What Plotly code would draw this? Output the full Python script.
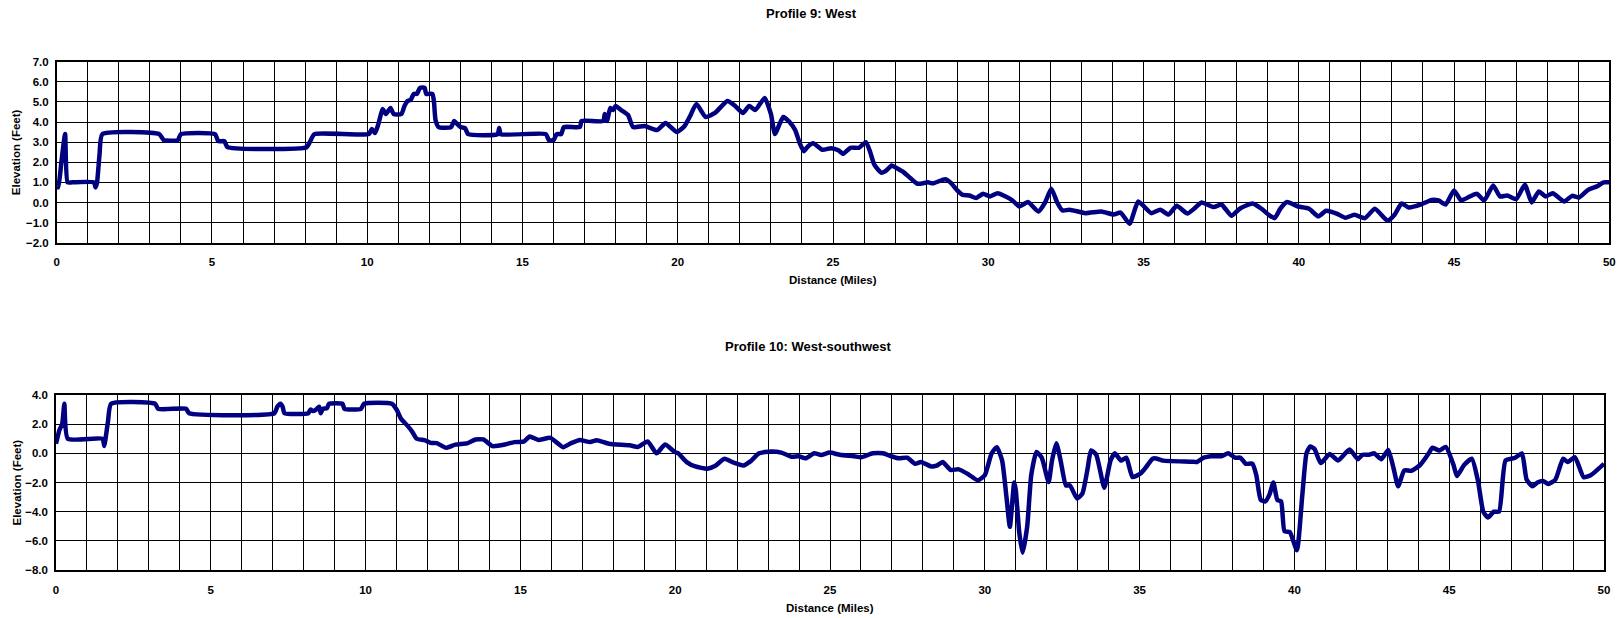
import plotly.graph_objects as go

# Profile 9: West
dist9 = [0.00, 0.05, 0.15, 0.27, 0.35, 0.50, 1.20, 1.25, 1.30, 1.38, 1.47, 3.30, 3.45, 3.90, 4.00,
         5.10, 5.20, 5.40, 5.50, 8.05, 8.15, 8.30, 10.05, 10.15, 10.25, 10.35, 10.50, 10.60, 10.75,
         10.85, 11.10, 11.20, 11.30, 11.40, 11.50, 11.60, 11.70, 11.85, 11.90, 12.10, 12.15, 12.20,
         12.30, 12.70, 12.80, 12.90, 13.00, 13.15, 13.25, 14.20, 14.25, 14.30, 15.75, 15.85, 16.00,
         16.10, 16.25, 16.33, 16.85, 16.90, 17.60, 17.65, 17.72, 17.83, 17.92, 18.00, 18.17, 18.40,
         18.56, 18.94, 19.33, 19.61, 19.97, 20.22, 20.40, 20.60, 20.90, 21.20, 21.60, 21.85, 22.10,
         22.30, 22.50, 22.80, 23.00, 23.13, 23.28, 23.40, 23.60, 23.78, 23.94, 24.06, 24.20, 24.36,
         24.66, 24.94, 25.17, 25.33, 25.56, 25.83, 26.06, 26.20, 26.33, 26.56, 26.72, 26.89, 27.06,
         27.28, 27.50, 27.72, 28.06, 28.22, 28.61, 28.78, 29.00, 29.17, 29.39, 29.61, 29.83, 30.06,
         30.30, 30.56, 30.78, 31.00, 31.28, 31.61, 31.83, 32.03, 32.22, 32.39, 32.62, 33.13, 33.64,
         34.04, 34.26, 34.55, 34.83, 35.25, 35.54, 35.81, 36.07, 36.41, 36.64, 36.87, 37.26, 37.51,
         37.83, 38.11, 38.51, 38.79, 39.02, 39.22, 39.41, 39.62, 39.98, 40.32, 40.63, 40.88, 41.22,
         41.50, 41.79, 42.13, 42.45, 42.86, 43.09, 43.31, 43.54, 43.94, 44.28, 44.50, 44.73, 45.00,
         45.23, 45.51, 45.74, 45.97, 46.26, 46.48, 46.71, 47.00, 47.28, 47.50, 47.73, 47.95, 48.18,
         48.55, 48.80, 49.03, 49.32, 49.60, 49.82, 50.00]
elev9 = [0.80, 0.75, 2.00, 3.40, 1.00, 1.00, 1.00, 0.75, 1.00, 2.40, 3.40, 3.40, 3.10, 3.10, 3.40,
         3.40, 3.05, 3.05, 2.75, 2.75, 3.00, 3.40, 3.40, 3.65, 3.45, 3.85, 4.65, 4.40, 4.70,
         4.40, 4.40, 4.80, 5.05, 5.10, 5.40, 5.40, 5.70, 5.70, 5.40, 5.40, 5.00, 4.10,
         3.75, 3.75, 4.05, 3.90, 3.75, 3.70, 3.40, 3.40, 3.70, 3.40, 3.40, 3.10, 3.10,
         3.40, 3.40, 3.75, 3.75, 4.05, 4.05, 4.40, 4.05, 4.70, 4.60, 4.80, 4.60, 4.35,
         3.75, 3.80, 3.60, 3.95, 3.50, 3.80, 4.30, 4.90, 4.25, 4.45, 5.05, 4.80, 4.45,
         4.80, 4.60, 5.20, 4.40, 3.40, 3.90, 4.25, 4.00, 3.60, 2.90, 2.55, 2.80, 2.95,
         2.62, 2.70, 2.60, 2.42, 2.72, 2.72, 3.00, 2.50, 1.88, 1.48, 1.60, 1.84, 1.70,
         1.50, 1.20, 0.93, 1.00, 0.95, 1.16, 1.00, 0.60, 0.38, 0.35, 0.22, 0.43, 0.30,
         0.46, 0.30, 0.10, -0.20, 0.02, -0.45, 0.00, 0.68, 0.00, -0.40, -0.36, -0.53, -0.45,
         -0.60, -0.50, -1.06, 0.05, -0.53, -0.36, -0.60, -0.16, -0.55, -0.30, 0.00, -0.23, -0.10,
         -0.66, -0.30, -0.05, -0.30, -0.60, -0.78, -0.30, 0.02, -0.20, -0.30, -0.69, -0.41, -0.55,
         -0.76, -0.61, -0.78, -0.31, -0.91, -0.60, -0.05, -0.25, -0.10, 0.13, 0.10, -0.10, 0.60,
         0.10, 0.30, 0.43, 0.10, 0.85, 0.30, 0.35, 0.17, 0.88, 0.00, 0.55, 0.30, 0.46,
         0.05, 0.33, 0.25, 0.63, 0.80, 1.00, 1.00]

# Profile 10: West-southwest
dist10 = [0.00, 0.11, 0.20, 0.27, 0.38, 1.50, 1.56, 1.60, 1.68, 1.78, 3.20, 3.30, 4.20, 4.30, 7.05,
          7.15, 7.25, 7.32, 7.38, 8.15, 8.22, 8.30, 8.40, 8.50, 8.55, 8.62, 8.75, 8.82, 9.25,
          9.32, 9.85, 9.95, 10.85, 11.00, 11.15, 11.35, 11.50, 11.65, 11.90, 12.10, 12.30, 12.60,
          12.90, 13.30, 13.55, 13.80, 14.10, 14.50, 14.80, 15.10, 15.30, 15.58, 15.97, 16.38, 16.64,
          16.92, 17.25, 17.47, 17.86, 18.53, 18.80, 19.11, 19.40, 19.67, 19.98, 20.10, 20.37, 20.65,
          21.04, 21.30, 21.59, 21.87, 22.20, 22.43, 22.71, 23.10, 23.43, 23.76, 23.99, 24.21, 24.49,
          24.71, 24.99, 25.32, 25.77, 26.01, 26.38, 26.71, 26.97, 27.22, 27.49, 27.75, 27.94, 28.27,
          28.44, 28.64, 28.89, 29.16, 29.44, 29.78, 30.00, 30.22, 30.39, 30.56, 30.70, 30.81, 30.95,
          31.00, 31.11, 31.22, 31.37, 31.50, 31.67, 31.84, 32.06, 32.17, 32.31, 32.45, 32.62, 32.75,
          32.98, 33.15, 33.32, 33.43, 33.60, 33.86, 34.06, 34.20, 34.40, 34.57, 34.77, 35.02, 35.19,
          35.42, 35.53, 35.76, 36.73, 36.84, 37.07, 37.30, 37.64, 37.86, 38.09, 38.26, 38.43, 38.64,
          38.77, 38.91, 39.06, 39.20, 39.32, 39.45, 39.57, 39.68, 39.85, 40.08, 40.25, 40.39, 40.51,
          40.65, 40.85, 41.14, 41.41, 41.78, 42.05, 42.20, 42.41, 42.58, 42.81, 43.03, 43.20, 43.35,
          43.55, 43.77, 44.06, 44.34, 44.45, 44.68, 44.89, 45.14, 45.25, 45.48, 45.73, 45.93, 46.10,
          46.25, 46.44, 46.61, 46.82, 47.13, 47.35, 47.50, 47.69, 47.85, 48.03, 48.20, 48.43, 48.68,
          48.83, 49.06, 49.34, 49.57, 49.80, 50.00]
elev10 = [0.65, 1.60, 2.00, 3.40, 1.00, 1.00, 0.50, 1.00, 2.20, 3.40, 3.40, 3.05, 3.05, 2.75, 2.75,
          3.20, 3.40, 3.20, 2.75, 2.75, 3.00, 2.90, 3.00, 3.20, 2.75, 3.05, 3.10, 3.40, 3.40,
          3.05, 3.05, 3.40, 3.40, 3.00, 2.35, 1.90, 1.50, 1.00, 0.90, 0.72, 0.70, 0.38,
          0.60, 0.70, 0.95, 0.95, 0.49, 0.60, 0.77, 0.80, 1.15, 0.92, 1.06, 0.42, 0.70,
          0.92, 0.77, 0.90, 0.66, 0.55, 0.44, 0.82, 0.00, 0.60, 0.10, 0.00, -0.60, -0.90,
          -1.05, -0.85, -0.37, -0.62, -0.83, -0.55, 0.00, 0.13, 0.05, -0.23, -0.20, -0.34, 0.00,
          -0.11, 0.05, -0.10, -0.20, -0.27, 0.00, 0.00, -0.20, -0.34, -0.30, -0.72, -0.60, -0.90,
          -0.85, -0.60, -1.13, -1.10, -1.40, -1.85, -1.50, 0.00, 0.42, -0.50, -3.00, -5.04, -2.00,
          -2.50, -5.38, -6.82, -5.00, -1.50, 0.10, -0.30, -1.97, -0.50, 0.70, -0.50, -2.20, -2.20,
          -3.10, -2.77, -1.06, 0.20, -0.10, -2.36, -0.50, 0.00, -0.50, -0.30, -1.63, -1.40, -1.00,
          -0.37, -0.35, -0.50, -0.57, -0.60, -0.30, -0.20, -0.20, 0.00, -0.30, -0.30, -0.72, -0.70,
          -1.50, -3.18, -3.30, -2.80, -2.00, -3.20, -3.30, -5.34, -5.40, -6.64, -3.00, 0.00, 0.47,
          0.30, -0.67, -0.05, -0.49, 0.27, -0.40, -0.10, -0.10, 0.00, -0.40, 0.23, -1.00, -2.26,
          -1.17, -1.20, -0.80, 0.00, 0.38, 0.20, 0.44, -0.80, -1.56, -0.80, -0.37, -1.90, -4.00,
          -4.40, -4.00, -4.00, -0.49, -0.30, 0.00, -1.80, -2.26, -2.00, -1.90, -2.10, -1.80, -0.37,
          -0.60, -0.27, -1.63, -1.50, -1.10, -0.72]

W, H = 1621, 618
FONT = "Arial, Liberation Sans, Helvetica, sans-serif"
LINE = "#000080"


def px(x):
    return x / W


def py(y):
    return 1 - y / H


fig = go.Figure()
fig.add_trace(go.Scatter(x=dist9, y=elev9, mode="lines", xaxis="x", yaxis="y",
                         line=dict(color=LINE, width=4.5, shape="spline", smoothing=0.5),
                         showlegend=False, hoverinfo="skip"))
fig.add_trace(go.Scatter(x=dist10, y=elev10, mode="lines", xaxis="x2", yaxis="y2",
                         line=dict(color=LINE, width=4.5, shape="spline", smoothing=0.5),
                         showlegend=False, hoverinfo="skip"))

tickfont = dict(family=FONT, size=11.5, color="black", weight="bold")


def xaxis_style(domain, anchor):
    return dict(domain=domain, anchor=anchor, range=[0, 50], tickmode="linear", tick0=0, dtick=5,
                showgrid=True, gridcolor="black", gridwidth=1,
                minor=dict(tick0=0, dtick=1, showgrid=True, gridcolor="black", gridwidth=1),
                showline=True, mirror=True, linecolor="black", linewidth=1.5, zeroline=False,
                ticks="outside", ticklen=8, tickcolor="rgba(0,0,0,0)", tickfont=tickfont,
                automargin=False, fixedrange=True)


def yaxis_style(domain, anchor, rng, step):
    return dict(domain=domain, anchor=anchor, range=rng, tickmode="linear", tick0=rng[0], dtick=step,
                tickformat=".1f", showgrid=True, gridcolor="black", gridwidth=1,
                showline=True, mirror=True, linecolor="black", linewidth=1.5, zeroline=False,
                ticks="outside", ticklen=4, tickcolor="rgba(0,0,0,0)", tickfont=tickfont,
                automargin=False, fixedrange=True)


top1, bot1 = 61.7, 242.7
top2, bot2 = 395.0, 570.0
left1, right1 = 56.7, 1609.3
left2, right2 = 56.0, 1604.0

fig.update_layout(
    width=W, height=H,
    template="none",
    margin=dict(l=0, r=0, t=0, b=0, autoexpand=False),
    paper_bgcolor="white", plot_bgcolor="white",
    xaxis=xaxis_style([px(left1), px(right1)], "y"),
    yaxis=yaxis_style([py(bot1), py(top1)], "x", [-2, 7], 1),
    xaxis2=xaxis_style([px(left2), px(right2)], "y2"),
    yaxis2=yaxis_style([py(bot2), py(top2)], "x2", [-8, 4], 2),
)

labfont = dict(family=FONT, size=11.5, color="black", weight="bold")
titlefont = dict(family=FONT, size=13, color="black", weight="bold")
notes = [
    ("Profile 9: West", 811.7, 13.3, 0, titlefont),
    ("Profile 10: West-southwest", 808.0, 346.0, 0, titlefont),
    ("Distance (Miles)", (left1 + right1) / 2, 280.0, 0, labfont),
    ("Distance (Miles)", (left2 + right2) / 2, 608.0, 0, labfont),
    ("Elevation (Feet)", 16.0, (top1 + bot1) / 2, -90, labfont),
    ("Elevation (Feet)", 16.0, (top2 + bot2) / 2, -90, labfont),
]
for text, x, y, ang, f in notes:
    fig.add_annotation(text=text, x=px(x), y=py(y), xref="paper", yref="paper",
                       xanchor="center", yanchor="middle", showarrow=False,
                       textangle=ang, font=f)

# drop the default 8px body margin so the figure sits at the page origin
fig.write_html("out.html", config={"displayModeBar": False},
               post_script="document.body.style.margin='0';")
